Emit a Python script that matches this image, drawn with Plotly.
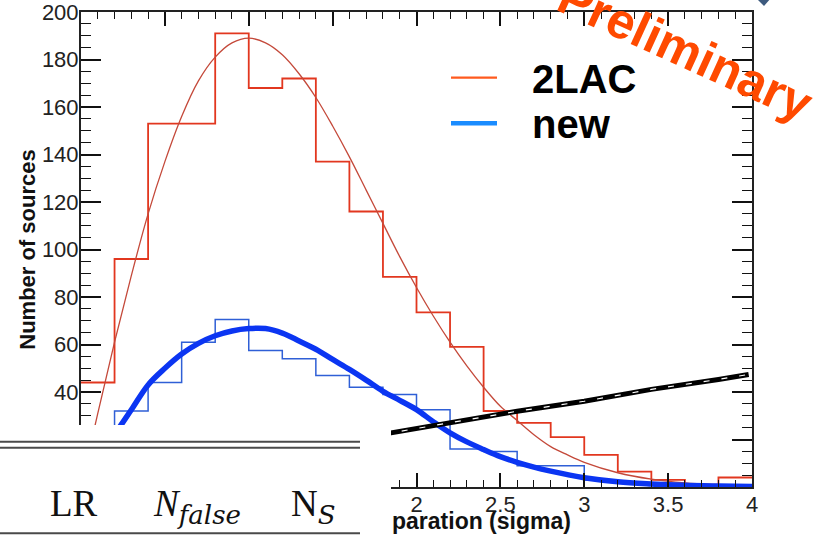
import plotly.graph_objects as go

# ---------------- data ----------------
bin_edges = [0.0, 0.2, 0.4, 0.6, 0.8, 1.0, 1.2, 1.4, 1.6, 1.8, 2.0,
             2.2, 2.4, 2.6, 2.8, 3.0, 3.2, 3.4, 3.6, 3.8, 4.0]
red_counts = [44, 96, 153, 153, 191, 168, 172, 137, 116, 88.5,
              73.5, 59, 32, 27, 21, 13.5, 6.5, 3, 1, 4]
blue_counts = [8, 32, 44, 61, 70.5, 57.5, 54, 47, 42, 39,
               32.5, 16, 15, 9, 9, 3, 2, 1, 0, 0]

fit_x = [0.0, 0.1, 0.2, 0.3, 0.4, 0.5, 0.6, 0.7, 0.8, 0.9, 1.0,
         1.1, 1.2, 1.3, 1.4, 1.5, 1.6, 1.7, 1.8, 1.9, 2.0,
         2.1, 2.2, 2.3, 2.4, 2.5, 2.6, 2.7, 2.8, 2.9, 3.0,
         3.2, 3.4, 3.6, 3.8, 4.0]
red_fit = [0, 31, 61, 89, 115, 137, 156, 171, 181, 187, 189,
           187, 182, 174, 164, 152, 139, 125, 111, 97, 84,
           72, 61, 51, 42, 34, 28, 22, 17, 13.5, 10.4,
           6, 3.3, 1.7, 0.9, 0.4]
blue_fit = [0, 11, 22, 32.5, 43, 50, 56, 60.5, 63.7, 65.7, 66.7,
            66.7, 64.8, 61.5, 58, 53.7, 49.5, 45, 40.3, 36.5, 32.6,
            27.5, 22.8, 19, 15.8, 12.8, 10.4, 8.4, 6.7, 5.2, 3.9,
            2.2, 1.3, 0.7, 0.4, 0.2]

line_x = [1.7, 2.0, 2.6, 3.0, 3.4, 3.8, 3.98]
line_y = [21, 24.6, 31.9, 36.1, 41.1, 45.3, 47.4]

legend_labels = ["2LAC", "new"]
sub_style = "font-family:'DejaVu Serif';font-size:26px"
table_headers = ["LR",
                 f"<i>N</i><sub><span style=\"{sub_style}\"><i>false</i></span></sub>",
                 f"N<sub><span style=\"{sub_style}\"><i>S</i></span></sub>"]
x_title_visible = "paration (sigma)"
y_title = "Number of sources"
stamp_text = "Preliminary"

# ---------------- geometry ----------------
W, H = 819, 536
ML, MR, MT, MB = 81, 67, 12, 49
PW = W - ML - MR
PH = H - MT - MB


def px(x):
    return (x - ML) / PW


def py(y):
    return (H - MB - y) / PH


fig = go.Figure()

# histograms as step outlines
fig.add_trace(go.Scatter(x=bin_edges, y=red_counts + [red_counts[-1]],
                         mode="lines", line=dict(shape="hv", color="#e2371f", width=1.8),
                         showlegend=False, hoverinfo="skip"))
fig.add_trace(go.Scatter(x=bin_edges, y=blue_counts + [blue_counts[-1]],
                         mode="lines", line=dict(shape="hv", color="#2f5fd6", width=1.5),
                         showlegend=False, hoverinfo="skip"))
# fitted curves
fig.add_trace(go.Scatter(x=fit_x, y=red_fit, mode="lines",
                         line=dict(shape="spline", color="#c4493a", width=1.3),
                         name=legend_labels[0], showlegend=False))
fig.add_trace(go.Scatter(x=fit_x, y=blue_fit, mode="lines",
                         line=dict(shape="spline", color="#0b35f2", width=5.5),
                         name=legend_labels[1], showlegend=False))
# black dashed line
fig.add_trace(go.Scatter(x=line_x, y=line_y, mode="lines",
                         line=dict(color="#000000", width=5),
                         showlegend=False, hoverinfo="skip"))
fig.add_trace(go.Scatter(x=line_x, y=line_y, mode="lines",
                         line=dict(color="#ffffff", width=1.2, dash="6px,12px"),
                         showlegend=False, hoverinfo="skip"))

axis_common = dict(
    showline=True, linecolor="#222222", linewidth=2, mirror="ticks",
    ticks="inside", tickcolor="#111111", tickwidth=1.5,
    showgrid=False, zeroline=False, automargin=False,
    ticklabeloverflow="allow",
    tickfont=dict(family="Liberation Sans", size=22, color="#222222"),
)

fig.update_xaxes(range=[0, 4], tick0=0, dtick=0.5, ticklen=14,
                 ticklabelstandoff=-3,
                 minor=dict(dtick=0.1, ticklen=7, tickwidth=1.2, tickcolor="#111111",
                            ticks="inside", showgrid=False),
                 **axis_common)
fig.update_yaxes(range=[0, 200], tick0=0, dtick=20, ticklen=20,
                 ticklabelstandoff=-4,
                 minor=dict(dtick=5, ticklen=10, tickwidth=1.2, tickcolor="#111111",
                            ticks="inside", showgrid=False),
                 title=dict(text=y_title, standoff=0,
                            font=dict(family="Liberation Sans", size=22, color="#111111",
                                      weight="bold")),
                 **axis_common)

shapes = []
# white table overlay
shapes.append(dict(type="rect", xref="paper", yref="paper",
                   x0=px(-5), x1=px(391), y0=py(545), y1=py(425),
                   fillcolor="white", line=dict(width=0), layer="above"))
for yy in (441.7, 447.7, 533.3):
    shapes.append(dict(type="line", xref="paper", yref="paper",
                       x0=px(0), x1=px(360), y0=py(yy), y1=py(yy),
                       line=dict(color="#4a4a4a", width=2), layer="above"))
# legend lines
shapes.append(dict(type="line", xref="paper", yref="paper",
                   x0=px(451), x1=px(497), y0=py(77.7), y1=py(77.7),
                   line=dict(color="#ff5a1e", width=2.2), layer="above"))
shapes.append(dict(type="line", xref="paper", yref="paper",
                   x0=px(451), x1=px(497), y0=py(123.3), y1=py(123.3),
                   line=dict(color="#1a8cff", width=4.5), layer="above"))
# small logo fragment at top right
shapes.append(dict(type="path", xref="paper", yref="paper",
                   path=f"M {px(756)},{py(-2)} L {px(771)},{py(-2)} L {px(764)},{py(6)} Z",
                   fillcolor="#3d5a7e", line=dict(width=0), layer="above"))

annotations = []
serif = "Liberation Serif"
annotations.append(dict(text=table_headers[0], x=px(74), y=py(503), xref="paper", yref="paper",
                        showarrow=False, xanchor="center", yanchor="middle",
                        font=dict(family=serif, size=37, color="#111111")))
annotations.append(dict(text=table_headers[1], x=px(151), y=py(506), xref="paper", yref="paper",
                        showarrow=False, xanchor="left", yanchor="middle",
                        font=dict(family=serif, size=37, color="#111111")))
annotations.append(dict(text=table_headers[2], x=px(289), y=py(506), xref="paper", yref="paper",
                        showarrow=False, xanchor="left", yanchor="middle",
                        font=dict(family=serif, size=37, color="#111111")))
annotations.append(dict(text=x_title_visible, x=px(390), y=py(521), xref="paper", yref="paper",
                        showarrow=False, xanchor="left", yanchor="middle",
                        font=dict(family="Liberation Sans", size=23, color="#111111", weight="bold")))
annotations.append(dict(text=legend_labels[0], x=px(530), y=py(79), xref="paper", yref="paper",
                        showarrow=False, xanchor="left", yanchor="middle",
                        font=dict(family="Liberation Sans", size=40, color="#000000", weight="bold")))
annotations.append(dict(text=legend_labels[1], x=px(530), y=py(124), xref="paper", yref="paper",
                        showarrow=False, xanchor="left", yanchor="middle",
                        font=dict(family="Liberation Sans", size=40, color="#000000", weight="bold")))
annotations.append(dict(text=stamp_text, x=px(685), y=py(50), xref="paper", yref="paper",
                        showarrow=False, xanchor="center", yanchor="middle", textangle=24.5,
                        font=dict(family="Liberation Sans", size=50, color="#ff4a00", weight="bold")))

fig.update_layout(
    width=W, height=H,
    margin=dict(l=ML, r=MR, t=MT, b=MB, pad=0, autoexpand=False),
    paper_bgcolor="white", plot_bgcolor="white",
    showlegend=False,
    shapes=shapes, annotations=annotations,
)

fig.write_html("out.html")
